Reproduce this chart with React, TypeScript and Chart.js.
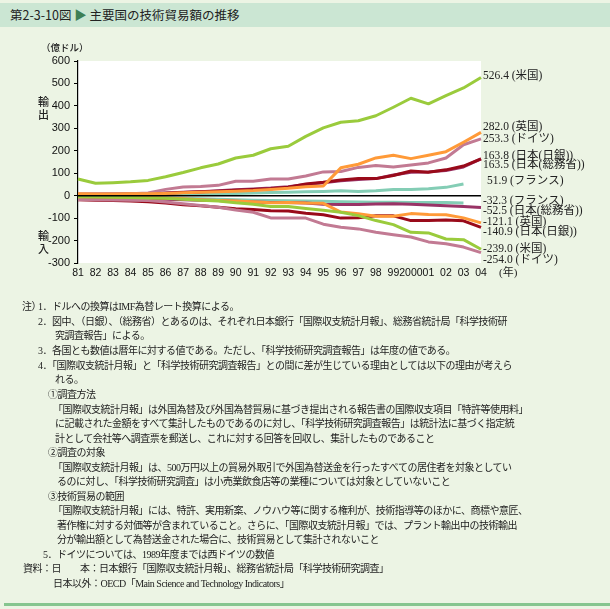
import React, { useEffect, useRef } from 'react';
import { Chart, registerables } from 'chart.js';
Chart.register(...registerables);

// ---- data ----
const years = ['81','82','83','84','85','86','87','88','89','90','91','92','93','94','95','96','97','98','99','2000','01','02','03','04'];

const usExport = [74,55,58,62,68,84,103,124,141,168,180,209,220,264,302,327,334,356,394,434,409,446,480,526.4];
const usImport = [-5,-6,-7,-8,-10,-12,-16,-20,-24,-32,-38,-48,-48,-57,-65,-74,-89,-111,-129,-163,-166,-193,-196,-239.0];
const ukExport = [8,7,7,8,8,10,13,15,18,20,23,28,33,40,43,124,140,168,180,165,180,196,238,282.0];
const ukImport = [-5,-5,-6,-7,-8,-10,-14,-18,-21,-24,-27,-32,-30,-33,-34,-73,-80,-92,-92,-80,-84,-85,-99,-121.1];
const deExport = [8,8,8,9,12,28,39,41,46,64,64,74,74,88,106,108,126,134,128,137,146,168,227,253.3];
const deImport = [-17,-18,-19,-20,-22,-28,-36,-44,-52,-64,-74,-99,-100,-100,-127,-141,-148,-163,-174,-184,-206,-214,-229,-254.0];
const jpBojExport = [3,4,5,6,8,11,14,17,20,24,27,31,38,52,60,70,76,76,90,110,104,115,132,163.8];
const jpBojImport = [-18,-20,-22,-24,-27,-33,-40,-45,-52,-58,-62,-67,-68,-78,-85,-100,-98,-90,-90,-111,-111,-108,-112,-140.9];
const jpMicExport = [5,6,7,8,9,12,15,18,22,26,30,34,40,50,58,66,72,76,92,104,106,112,128,163.5];
const jpMicImport = [-10,-11,-12,-13,-14,-16,-18,-20,-22,-25,-28,-30,-30,-33,-38,-39,-39,-37,-36,-38,-42,-45,-48,-52.5];
const frExport = [2,2,3,3,4,6,7,8,9,10,12,14,15,17,19,22,19,22,27,27,31,37,51.9,null];
const frImport = [-4,-5,-6,-7,-8,-10,-12,-14,-16,-18,-20,-22,-23,-24,-25,-27,-28,-29,-29,-30,-30,-31,-32.3,null];

const yTicksMin = -300;
const yTicksMax = 600;
const yStep = 100;

const endLabelTexts = [
  '526.4 (米国)', '282.0 (英国)', '253.3 (ドイツ)', '163.8 (日本(日銀))', '163.5 (日本(総務省))', '51.9 (フランス)',
  '-32.3 (フランス)', '-52.5 (日本(総務省))', '-121.1 (英国)', '-140.9 (日本(日銀))', '-239.0 (米国)', '-254.0 (ドイツ)',
];
const endLabelSeries = [usExport, ukExport, deExport, jpBojExport, jpMicExport, frExport, frImport, jpMicImport, ukImport, jpBojImport, usImport, deImport];

const noteLines = [
  '注）', '1．ドルへの換算はIMF為替レート換算による。',
  '2．図中、（日銀）、（総務省）とあるのは、それぞれ日本銀行「国際収支統計月報」、総務省統計局「科学技術研',
  '究調査報告」による。',
  '3．各国とも数値は暦年に対する値である。ただし、「科学技術研究調査報告」は年度の値である。',
  '4．「国際収支統計月報」と「科学技術研究調査報告」との間に差が生じている理由としては以下の理由が考えら',
  'れる。',
  '①調査方法',
  '「国際収支統計月報」は外国為替及び外国為替貿易に基づき提出される報告書の国際収支項目「特許等使用料」',
  'に記載された金額をすべて集計したものであるのに対し、「科学技術研究調査報告」は統計法に基づく指定統',
  '計として会社等へ調査票を郵送し、これに対する回答を回収し、集計したものであること',
  '②調査の対象',
  '「国際収支統計月報」は、500万円以上の貿易外取引で外国為替送金を行ったすべての居住者を対象としてい',
  'るのに対し、「科学技術研究調査」は小売業飲食店等の業種については対象としていないこと',
  '③技術貿易の範囲',
  '「国際収支統計月報」には、特許、実用新案、ノウハウ等に関する権利が、技術指導等のほかに、商標や意匠、',
  '著作権に対する対価等が含まれていること。さらに、「国際収支統計月報」では、プラント輸出中の技術輸出',
  '分が輸出額として為替送金された場合に、技術貿易として集計されないこと',
  '5．ドイツについては、1989年度までは西ドイツの数値',
  '資料：日　　本：日本銀行「国際収支統計月報」、総務省統計局「科学技術研究調査」',
  '日本以外：OECD「Main Science and Technology Indicators」',
];
// layout of the note lines [x, y-center]
const noteLayout: [number, number][] = [
  [22, 307], [38, 307], [38, 322], [55, 336], [38, 351], [38, 366], [55, 380], [48, 395], [53, 410], [55, 424], [55, 439],
  [48, 453], [53, 468], [57, 482], [48, 497], [53, 511], [57, 526], [57, 540], [43, 555], [23, 569], [53, 584],
];

const labelNudges = [-2, -5, 0, -3, 6, -3, -1.5, 4, -0.5, 5, 0, 7];

const C_US = '#9ACB3C';
const C_UK = '#FF9A38';
const C_DE = '#C27A93';
const C_BOJ = '#990A1A';
const C_MIC = '#993366';
const C_FR = '#84CDB5';

const SERIF = '"Liberation Serif", "Times New Roman", "Noto Sans CJK JP", serif';
const SANS = 'Arial, "Liberation Sans", "Noto Sans CJK JP", sans-serif';
const CJK = '"Noto Sans CJK JP", sans-serif';

export default function App() {
  const ref = useRef<HTMLCanvasElement>(null);
  useEffect(() => {
    if (!ref.current) return;
    const mk = (data: (number | null)[], color: string, order: number) => ({
      data, borderColor: color, backgroundColor: color, borderWidth: 3, pointRadius: 0, tension: 0, fill: false, order,
      borderJoinStyle: 'round' as const, spanGaps: false,
    });
    const plugin = {
      id: 'custom',
      beforeDraw(chart: any) {
        const { ctx, chartArea } = chart;
        ctx.save();
        ctx.fillStyle = '#ffffff';
        ctx.fillRect(chartArea.left, chartArea.top, chartArea.right - chartArea.left, chartArea.bottom - chartArea.top);
        ctx.restore();
      },
      afterDatasetsDraw(chart: any) {
        const { ctx, chartArea, scales } = chart;
        const y0 = scales.y.getPixelForValue(0);
        ctx.save();
        ctx.strokeStyle = '#000';
        ctx.lineWidth = 1.5;
        ctx.beginPath();
        ctx.moveTo(chartArea.left, y0);
        ctx.lineTo(chartArea.right, y0);
        ctx.stroke();
        ctx.restore();
      },
      afterDraw(chart: any) {
        const { ctx, chartArea, scales } = chart;
        ctx.save();
        ctx.font = '11.5px ' + SERIF;
        ctx.fillStyle = '#222';
        ctx.textBaseline = 'middle';
        ctx.textAlign = 'left';
        endLabelTexts.forEach((t, i) => {
          const s = endLabelSeries[i];
          let v: number | null = null;
          for (let k = s.length - 1; k >= 0; k--) { if (s[k] !== null) { v = s[k] as number; break; } }
          if (v === null) return;
          const y = scales.y.getPixelForValue(v) + labelNudges[i];
          const x = chartArea.right + (t.startsWith('51.9') ? 6 : 2);
          ctx.fillText(t, x, y);
        });
        ctx.restore();
      },
    };
    const chart = new Chart(ref.current, {
      type: 'line',
      data: {
        labels: years,
        datasets: [
          mk(frExport, C_FR, 12), mk(frImport, C_FR, 11),
          mk(jpMicExport, C_MIC, 10), mk(jpMicImport, C_MIC, 9),
          mk(jpBojExport, C_BOJ, 8), mk(jpBojImport, C_BOJ, 7),
          mk(deExport, C_DE, 6), mk(deImport, C_DE, 5),
          mk(ukExport, C_UK, 4), mk(ukImport, C_UK, 3),
          mk(usExport, C_US, 2), mk(usImport, C_US, 1),
        ],
      },
      options: {
        animation: false,
        responsive: false,
        layout: { padding: { top: 61, left: 0, right: 129, bottom: 0 } },
        plugins: { legend: { display: false }, tooltip: { enabled: false } },
        scales: {
          x: {
            type: 'category',
            offset: false,
            grid: { display: false, drawTicks: false },
            border: { display: false },
            ticks: { autoSkip: false, maxRotation: 0, minRotation: 0, padding: 4, color: '#111', font: { size: 10.5, family: SANS } },
            afterFit: (s: any) => { s.height = 27; },
          },
          y: {
            min: yTicksMin,
            max: yTicksMax,
            ticks: { stepSize: yStep, padding: 4, color: '#111', font: { size: 11, family: SANS } },
            grid: { drawOnChartArea: false, drawTicks: true, tickLength: 4, color: '#000', lineWidth: 1 },
            border: { display: true, color: '#000', width: 1.2 },
            afterFit: (s: any) => { s.width = 78; },
          },
        },
      },
      plugins: [plugin],
    } as any);
    return () => chart.destroy();
  }, []);

  const abs = (x: number, y: number, extra: React.CSSProperties = {}): React.CSSProperties => ({
    position: 'absolute', left: x, top: y - 7, height: 14, lineHeight: '14px', whiteSpace: 'nowrap', ...extra,
  });

  return (
    <div style={{ position: 'fixed', left: 0, top: 0, width: 610, height: 609, background: '#ECF4E4', overflow: 'hidden' }}>
      <div style={{ position: 'absolute', left: 0, top: 3, width: 610, height: 24, background: '#CBE6D3' }} />
      <div style={{ ...abs(10, 15.5), fontFamily: CJK, fontSize: 12.5, color: '#222', height: 16, lineHeight: '16px', top: 7 }}>
        第2-3-10図 <span style={{ color: '#3D7F55' }}>▶</span> 主要国の技術貿易額の推移
      </div>
      <canvas ref={ref} width={610} height={290} style={{ position: 'absolute', left: 0, top: 0, width: 610, height: 290 }} />
      <div style={{ ...abs(41, 46.5), fontFamily: CJK, fontSize: 9.5, color: '#222', fontWeight: 500 }}>（億ドル）</div>
      <div style={{ ...abs(38, 101), fontFamily: CJK, fontSize: 11, color: '#222', fontWeight: 500 }}>輸</div>
      <div style={{ ...abs(38, 114), fontFamily: CJK, fontSize: 11, color: '#222', fontWeight: 500 }}>出</div>
      <div style={{ ...abs(38, 235), fontFamily: CJK, fontSize: 11, color: '#222', fontWeight: 500 }}>輸</div>
      <div style={{ ...abs(38, 248), fontFamily: CJK, fontSize: 11, color: '#222', fontWeight: 500 }}>入</div>
      <div style={{ ...abs(499, 272), fontFamily: SERIF, fontSize: 11, color: '#222' }}>(年)</div>
      {noteLines.map((t, i) => (
        <div key={i} style={{ ...abs(noteLayout[i][0], noteLayout[i][1]), fontFamily: SERIF, fontSize: 10, letterSpacing: '-0.5px', color: '#222' }}>
          {t}
        </div>
      ))}
      <div style={{ position: 'absolute', left: 4, top: 602.5, width: 606, height: 3, background: '#86C58F' }} />
    </div>
  );
}
